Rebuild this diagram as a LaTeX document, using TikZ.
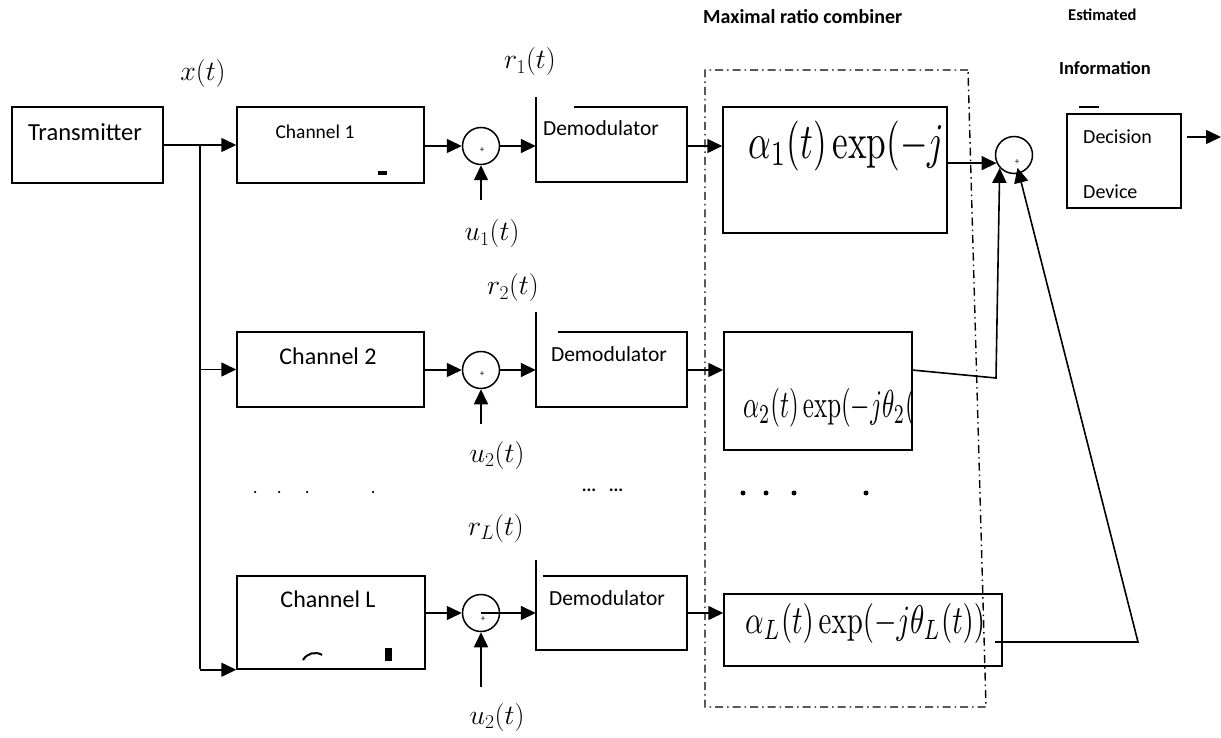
\RequirePackage{fix-cm}
\documentclass[tikz,border=0pt]{standalone}
\usepackage{graphicx}
\usepackage[no-math]{fontspec}
\setmainfont{Carlito}
\usetikzlibrary{arrows.meta,calc}
\tikzset{
  box/.style={draw, line width=1.5pt, inner sep=0pt},
  ghost/.style={draw=none, inner sep=0pt},
  sumc/.style={draw, circle, line width=1.5pt, minimum size=37pt, inner sep=0pt},
  arr/.style={line width=1.6pt, -{Triangle[length=15pt,width=14pt]}},
  wire/.style={line width=1.5pt},
  txt/.style={inner sep=0pt, font=\fontsize{22}{26}\selectfont},
  hdr/.style={inner sep=0pt, anchor=west, font=\fontsize{17}{20}\selectfont\bfseries},
  mlbl/.style={inner sep=0pt, font=\fontsize{28}{32}\selectfont},
  plus/.style={inner sep=0pt, font=\fontsize{9}{10}\selectfont},
  mrc/.style={line width=1.4pt, dash pattern=on 8pt off 4pt on 1.5pt off 4pt},
  sdot/.style={circle, fill, inner sep=0pt, minimum size=2.5pt},
  bdot/.style={circle, fill, inner sep=0pt, minimum size=5pt}
}
\begin{document}
\begin{tikzpicture}[x=1pt, y=-1pt]
\useasboundingbox (0,0) rectangle (1221,738);

% boxes
\node[box, minimum width=151pt, minimum height=76pt] (tx) at (87.5,145) {};
\node[txt, font=\fontsize{24.5}{28}\selectfont] (txl) at (85,132) {Transmitter};
\node[box, minimum width=187pt, minimum height=76pt] (ch1) at (330.5,145) {};
\node[txt, font=\fontsize{19.5}{23}\selectfont] (ch1l) at (315,132) {Channel 1};
\node[box, minimum width=187pt, minimum height=75pt] (ch2) at (330.5,369.5) {};
\node[txt, font=\fontsize{24}{28}\selectfont] (ch2l) at (328,356) {Channel 2};
\node[box, minimum width=188pt, minimum height=93pt] (chL) at (331,622.5) {};
\node[txt, font=\fontsize{24}{28}\selectfont] (chLl) at (328,599) {Channel L};

% fragments in channel boxes
\fill (378,171) rectangle (387,175);
\fill (385,648) rectangle (392,661);
\draw[line width=2pt] (303,660) arc[start angle=150, end angle=60, radius=14pt];

% summing junctions
\node[sumc] (s1) at (481,146) {};
\node[plus] at (482,150) {+};
\node[sumc] (s2) at (481,370) {};
\node[plus] at (482,374) {+};
\node[sumc] (s3) at (481,613) {};
\node[plus] at (483,619) {+};

% demodulators (drawn with their gaps)
\node[ghost, minimum width=151pt, minimum height=75pt] (d1) at (611.5,144.5) {};
\node[ghost, minimum width=151pt, minimum height=75pt] (d2) at (611.5,369.5) {};
\node[ghost, minimum width=151pt, minimum height=74pt] (dL) at (611.5,613) {};
\draw[wire] ([xshift=38pt]d1.north west) -- (d1.north east) -- (d1.south east) -- (d1.south west) -- ([yshift=10pt]d1.north west);
\draw[wire] ([xshift=22pt]d2.north west) -- (d2.north east) -- (d2.south east) -- (d2.south west) -- ([yshift=20pt]d2.north west);
\draw[wire] ([xshift=7pt]dL.north west) -- (dL.north east) -- (dL.south east) -- (dL.south west) -- ([yshift=16pt]dL.north west);
\node[txt, font=\fontsize{21.5}{25}\selectfont] (d1l) at (601,128) {Demodulator};
\node[txt, font=\fontsize{21.5}{25}\selectfont] (d2l) at (609,354) {Demodulator};
\node[txt, font=\fontsize{21.5}{25}\selectfont] (dLl) at (607,598) {Demodulator};

% combiner branches
\node[box, minimum width=224pt, minimum height=126pt] (a1) at (835,170) {};
\node[box, minimum width=188pt, minimum height=118pt] (a2) at (818,391) {};
\node[box, minimum width=278pt, minimum height=72pt] (aL) at (863,630) {};
\node[anchor=west, inner sep=0pt] (a1t) at (748,146) {\resizebox*{196pt}{50pt}{$\alpha_1(t)\exp(-j$}};
\begin{scope}
\clip (a2.north west) rectangle (a2.south east);
\node[anchor=west, inner sep=0pt] (a2t) at (743,408) {\resizebox*{200pt}{39pt}{$\alpha_2(t)\exp(-j\theta_2(t))$}};
\end{scope}
\node[anchor=west, inner sep=0pt] (aLt) at (745,623) {\resizebox*{240pt}{40pt}{$\alpha_L(t)\exp(-j\theta_L(t))$}};

% MRC dash-dot frame
\coordinate (m1) at (705,70);
\coordinate (m2) at (968,70);
\coordinate (m3) at (986,707);
\coordinate (m4) at (705,707);
\draw[mrc] (m2) -- (m1) -- (m4) -- (m3) -- cycle;

% final sum and decision
\node[sumc] (sm) at (1014,155) {};
\node[plus] at (1017,162) {+};
\node[box, minimum width=114pt, minimum height=94pt] (dec) at (1124,161) {};
\node[txt, font=\fontsize{20}{24}\selectfont, anchor=west] (decl1) at (1083,137) {Decision};
\node[txt, font=\fontsize{20}{24}\selectfont, anchor=west] (decl2) at (1083,192) {Device};
\coordinate (bar1) at (1079,107);
\coordinate (bar2) at (1099,107);
\draw[line width=1.8pt] (bar1) -- (bar2);
\coordinate (o1) at (1187,137);
\coordinate (o2) at (1221,137);
\draw[arr] (o1) -- (o2);

% headers
\node[hdr, font=\fontsize{20}{24}\selectfont\bfseries] (h1) at (703,17) {Maximal ratio combiner};
\node[hdr, font=\fontsize{16.5}{20}\selectfont\bfseries] (h2) at (1068,15) {Estimated};
\node[hdr, font=\fontsize{18.5}{22}\selectfont\bfseries] (h3) at (1059,68) {Information};

% signal labels
\node[mlbl] (lx) at (203,74) {$x(t)$};
\node[mlbl] (lr1) at (530,62) {$r_1(t)$};
\node[mlbl] (lu1) at (492,234) {$u_1(t)$};
\node[mlbl] (lr2) at (513,288) {$r_2(t)$};
\node[mlbl] (lu2) at (497,455) {$u_2(t)$};
\node[mlbl] (lrL) at (496,528) {$r_L(t)$};
\node[mlbl] (lu3) at (497,717) {$u_2(t)$};

% front-end connectors
\coordinate (br) at (200,145);
\draw[arr] (tx.east) -- (ch1.west);
\draw[wire] (br) -- (200,669);
\draw[arr] (br |- ch2.west) -- (ch2.west);
\draw[arr] (br |- chL.south west) -- (chL.south west);
\draw[arr] (ch1.east |- s1.west) -- (s1.west);
\draw[arr] (ch2.east |- s2.west) -- (s2.west);
\draw[arr] (chL.east |- s3.west) -- (s3.west);
\draw[arr] (s1.east) -- (d1.west |- s1.east);
\draw[arr] (s2.east) -- (d2.west |- s2.east);
\draw[arr] (s3.center) -- (dL.west |- s3.center);
\coordinate (u1b) at (481,200);
\coordinate (u2b) at (481,424);
\coordinate (u3b) at (481,687);
\draw[arr] (u1b) -- (s1.south);
\draw[arr] (u2b) -- (s2.south);
\draw[arr] (u3b) -- (s3.south);

% demod to combiner
\draw[arr] (d1.east |- s1.east) -- (a1.west |- s1.east);
\draw[arr] (d2.east |- s2.east) -- (a2.west |- s2.east);
\draw[arr] (dL.east |- s3.east) -- (aL.west |- s3.east);

% combiner outputs to final sum
\draw[arr] (sm.205 -| a1.east) -- (sm.205);
\coordinate (k2s) at (912,370);
\coordinate (k2) at (996,378);
\draw[arr] (k2s) -- (k2) -- (sm.222);
\coordinate (kLs) at (995,642);
\coordinate (kL) at (1138,642);
\draw[arr, shorten >=-6pt] (kLs) -- (kL) -- (sm.-75);

% dots
\foreach \xx in {255,279,307,373} \node[sdot] at (\xx,492) {};
\node[inner sep=0pt, font=\fontsize{18}{20}\selectfont\bfseries] (dd1) at (589,490) {...};
\node[inner sep=0pt, font=\fontsize{18}{20}\selectfont\bfseries] (dd2) at (616,490) {...};
\foreach \xx in {743,766,794,866} \node[bdot] at (\xx,493) {};
\end{tikzpicture}
\end{document}
